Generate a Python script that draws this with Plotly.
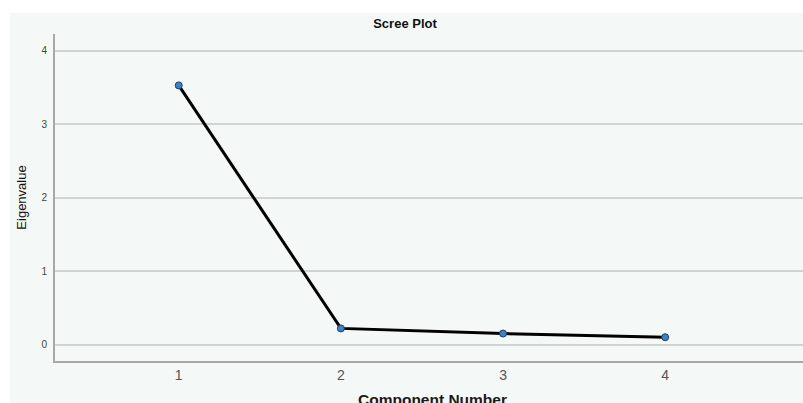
import plotly.graph_objects as go

components = [1, 2, 3, 4]
eigenvalues = [3.53, 0.22, 0.15, 0.10]
y_ticks = [0, 1, 2, 3, 4]
x_ticks = [1, 2, 3, 4]

W, H = 803, 403
L, T, B = 55, 34, 42
PW, PH = W - L, H - T - B

fig = go.Figure()
fig.add_trace(go.Scatter(
    x=components, y=eigenvalues, mode="lines+markers",
    line=dict(color="black", width=3),
    marker=dict(color="#3a83c6", size=7, line=dict(color="#1f3f66", width=1)),
    showlegend=False,
))

fig.update_layout(
    width=W, height=H,
    margin=dict(l=L, r=0, t=T, b=B, autoexpand=False),
    paper_bgcolor="#F4F8F6",
    plot_bgcolor="#F4F8F6",
    title=dict(text="<b>Scree Plot</b>", x=405 / W, xanchor="center", y=1 - 23 / H, yanchor="middle",
               font=dict(family="Liberation Sans, Arial", size=13, color="#111")),
    font=dict(family="Liberation Sans, Arial"),
    shapes=[
        dict(type="rect", xref="paper", yref="paper", x0=-0.2, x1=1.1, y0=1 + (T - 13) / PH, y1=1.3,
             fillcolor="white", line=dict(width=0), layer="below"),
        dict(type="rect", xref="paper", yref="paper", x0=-0.2, x1=-(L - 10) / PW, y0=-0.3, y1=1.3,
             fillcolor="white", line=dict(width=0), layer="below"),
    ],
    annotations=[
        dict(text="<b>Component Number</b>", xref="paper", yref="paper",
             x=(432 - L) / PW, y=-(399 - (H - B)) / PH, xanchor="center", yanchor="middle",
             showarrow=False, font=dict(size=15.5, color="#1a1a1a")),
    ],
)

fig.update_xaxes(
    range=[0.237, 4.85], tickvals=x_ticks, showgrid=False, zeroline=False,
    showline=True, linecolor="#a8a8a8", linewidth=2, ticks="",
    tickfont=dict(size=14, color="#555"),
    automargin=False,
)
fig.update_yaxes(
    range=[-0.224, 4.23], tickvals=y_ticks, showgrid=True, gridcolor="#cfd3d1", gridwidth=1.5,
    zeroline=False, showline=True, linecolor="#a8a8a8", linewidth=2, ticks="",
    tickfont=dict(size=10, color="#444"), ticklabelstandoff=4,
    title=dict(text="Eigenvalue", font=dict(size=13, color="#111", family="Liberation Sans Narrow, Liberation Sans"), standoff=12),
    automargin=False,
)

fig.write_html(
    "out.html",
    config={"displayModeBar": False},
    post_script="document.body.style.margin='0';document.body.style.overflow='hidden';",
)
